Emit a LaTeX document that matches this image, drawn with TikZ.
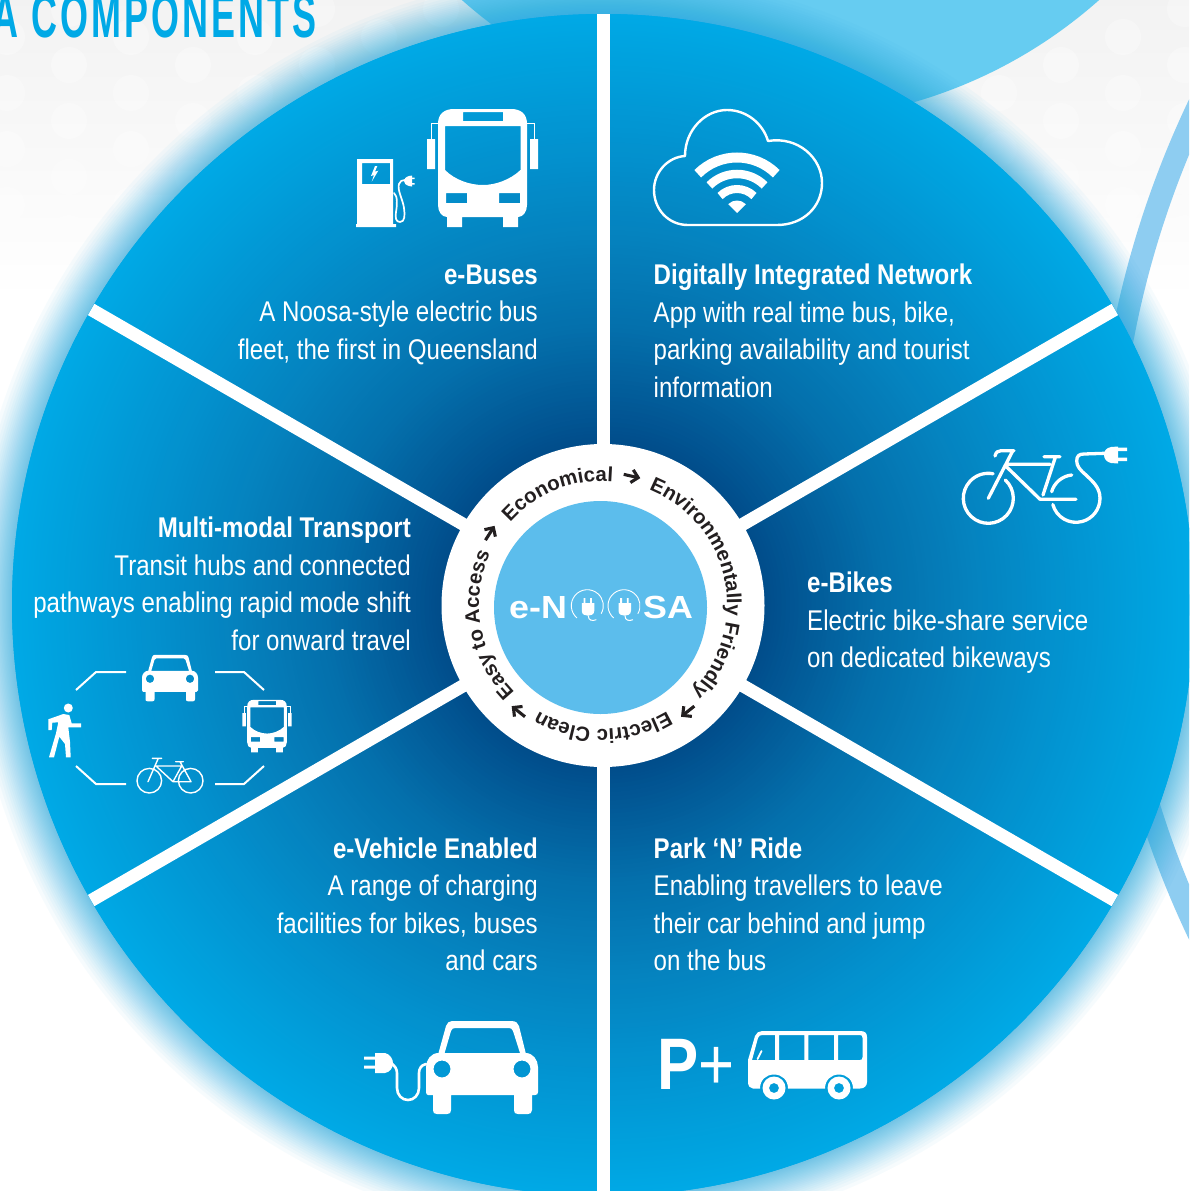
\documentclass[tikz,border=0pt]{standalone}
\usepackage{fontspec}
\setmainfont[FakeStretch=0.845]{Liberation Sans}
\newfontfamily\ringfont{Liberation Sans}
\newfontfamily\logofont[FakeStretch=1.12]{Liberation Sans}
\newfontfamily\titlefont[FakeStretch=0.58,LetterSpace=5]{Liberation Sans}
\usetikzlibrary{arrows.meta,decorations.text}
\definecolor{wheelA}{HTML}{014A87}
\definecolor{wheelB}{HTML}{01508E}
\definecolor{wheelC}{HTML}{0470AC}
\definecolor{wheelD}{HTML}{0580BC}
\definecolor{wheelE}{HTML}{0296D3}
\definecolor{wheelF}{HTML}{00A2DE}
\definecolor{wheelG}{HTML}{00A9E6}
\definecolor{skyc}{HTML}{66CCF1}
\definecolor{ringc}{HTML}{8ECDF1}
\definecolor{hubc}{HTML}{5CBDEC}
\definecolor{haloc}{HTML}{28ACE2}
\definecolor{inkc}{HTML}{231F20}
\newcommand{\gradband}[4]{% outer radius, inner radius, outer colour, inner colour
  \foreach \k in {0,...,24}{%
    \pgfmathsetmacro\rr{#1+(#2-#1)*\k/25}%
    \pgfmathsetmacro\tt{4*\k}%
    \fill[#4!\tt!#3] (603,605) circle (\rr pt);}%
}
\tikzset{
  bodytext/.style={text=white,inner sep=0pt,font=\fontsize{28.5}{37.5}\selectfont},
  leftblock/.style={bodytext,align=left,anchor=north west},
  rightblock/.style={bodytext,align=right,anchor=north east},
  icon/.style={fill=white,draw=none,even odd rule},
  iconline/.style={draw=white,line cap=round,line join=round},
  ringarrow/.style={draw=inkc,line width=3.1pt,-{Straight Barb[length=6.5pt,width=13pt,line width=3.1pt]}},
  ringtext/.style={decorate,decoration={text along path,text align=center,raise=0pt,text={#1}}}
}
\newcommand{\iconbus}{%
  \fill[icon] (438,124) .. controls (438,114) and (444,109) .. (454,109) -- (511,109) .. controls (521,109) and (527,114) .. (527,124) -- (527,205) .. controls (527,212) and (523,217) .. (518,217) -- (518,227) -- (503,227) -- (503,217) -- (462,217) -- (462,227) -- (447,227) -- (447,217) .. controls (442,217) and (438,212) .. (438,205) -- cycle
   (445,126) -- (520.5,126) -- (520.5,170) .. controls (510,180) and (495,185) .. (483,185) .. controls (470,185) and (455,180) .. (445,170) -- cycle
   (463,112) rectangle (503,121) (446,193) rectangle (467,203) (499,193) rectangle (520,203);
  \fill[white] (427,139) rectangle (435,169) (530,139) rectangle (538,169);
  \draw[white,line width=.8pt] (431,139) -- (431,123) -- (438,123) (527,123) -- (534,123) -- (534,139);
}
\newcommand{\iconcar}{%
  \fill[icon] (438.5,1053) -- (446,1026) .. controls (447,1023) and (449,1021) .. (452,1021) -- (511,1021) .. controls (516,1021) and (518,1023) .. (519,1026) -- (525.7,1053) .. controls (533,1053) and (538,1060) .. (538,1067) -- (538,1092) .. controls (538,1094) and (537,1095) .. (535,1095) -- (532,1095) -- (532,1110) .. controls (532,1113) and (530,1114) .. (528,1114) -- (518,1114) .. controls (515,1114) and (514,1113) .. (514,1110) -- (514,1095) -- (451,1095) -- (451,1110) .. controls (451,1113) and (450,1114) .. (447,1114) -- (437,1114) .. controls (434,1114) and (433,1113) .. (433,1110) -- (433,1095) -- (428,1095) .. controls (427,1095) and (426,1094) .. (426,1092) -- (426,1067) .. controls (426,1060) and (431,1053) .. (438.5,1053) -- cycle
   (444.6,1053) -- (451,1031) .. controls (452,1029) and (453,1028) .. (455,1028) -- (509,1028) .. controls (511,1028) and (512,1029) .. (513,1031) -- (520,1053) -- cycle
   (442,1069) circle (8.5pt) (522,1069) circle (8.5pt);
}
\begin{document}
\begin{tikzpicture}[x=1pt,y=-1pt]
\useasboundingbox (0,0) rectangle (1189,1191);
\begin{scope}
\clip (0,0) rectangle (1189,1191);
% background
\fill[white] (0,0) rectangle (1189,1191);
\shade[top color=black!5,bottom color=white] (0,0) rectangle (1189,300);
\foreach \cx in {7,131,255,379,503,627,751,875,999,1123}{
  \foreach \cy in {-19,37,93,149,205,261}{\fill[white,opacity=.3] (\cx,\cy) circle (18pt);}}
\foreach \cx in {69,193,317,441,565,689,813,937,1061,1185}{
  \foreach \cy in {9,65,121,177,233}{\fill[white,opacity=.3] (\cx,\cy) circle (18pt);}}
% sky disc and ring behind the wheel
\fill[skyc] (780.5,-359) circle (480pt);
\draw[ringc,line width=22.5pt] (2070,519.5) circle (964.5pt);
% halo
\foreach \k in {1,...,24}{
  \pgfmathsetmacro\rr{640-48*(\k/24)^0.6}
  \fill[haloc,opacity=.04] (603,605) circle (\rr pt);}
% wheel
\fill[wheelG] (603,605) circle (591pt);
\gradband{591}{550}{wheelG}{wheelF}
\gradband{550}{482}{wheelF}{wheelE}
\gradband{482}{360}{wheelE}{wheelD}
\gradband{360}{281}{wheelD}{wheelC}
\gradband{281}{174}{wheelC}{wheelB}
\gradband{174}{150}{wheelB}{wheelA}
% spokes
\begin{scope}[shift={(603,605)},y=1pt]
\foreach \a in {30,90,150,210,270,330}{\draw[white,line width=13pt] (0,0) -- (\a:591);}
\end{scope}
% hub
\fill[white] (603,605.5) circle (161.5pt);
\fill[hubc] (600.5,607.5) circle (106.5pt);
% title
\node[text=wheelG,inner sep=0pt,anchor=base east,font=\titlefont\bfseries\fontsize{62}{62}\selectfont] (title) at (317,37) {A COMPONENTS};
% logo
\node[text=white,inner sep=0pt,anchor=base west,font=\logofont\bfseries\fontsize{32}{32}\selectfont] (logoA) at (509,618) {e-N};
\node[text=white,inner sep=0pt,anchor=base west,font=\logofont\bfseries\fontsize{32}{32}\selectfont] (logoB) at (643,618) {SA};
\foreach \px in {587.3,624}{
  \begin{scope}[shift={(\px,605.7)},y=1pt]
  \draw[white,line width=.9pt] (230:16) arc (230:-30:16);
  \fill[white] (-5.5,2.5) -- (7,2.5) -- (7,-5) .. controls (7,-9) and (3,-10) .. (.75,-10) .. controls (-2,-10) and (-5.5,-9) .. (-5.5,-5) -- cycle;
  \fill[white] (-3.8,2) rectangle (-2.0,7.5) (2.8,2) rectangle (4.6,7.5);
  \draw[white,line width=1pt] (1,-10) .. controls (1,-15) and (5,-15.5) .. (9,-14);
  \end{scope}
}
% ring text
\begin{scope}[shift={(603,605)},y=1pt]
\path[ringtext={|\ringfont\bfseries\fontsize{20.4}{20.4}\selectfont\color{inkc}|Economical}] (152:124) arc (152:72:124);
\path[ringtext={|\ringfont\bfseries\fontsize{20.4}{20.4}\selectfont\color{inkc}|Environmentally Friendly}] (82:124) arc (82:-58:124);
\path[ringtext={|\ringfont\bfseries\fontsize{20.4}{20.4}\selectfont\color{inkc}|Electric Clean}] (-40:124) arc (-40:-140:124);
\path[ringtext={|\ringfont\bfseries\fontsize{20.4}{20.4}\selectfont\color{inkc}|Easy to Access}] (240:124) arc (240:140:124);
\draw[ringarrow] (77.3:132) ++(167.3:8.5) -- ++(-12.7:17);
\draw[ringarrow] (-51.5:136) ++(38.5:8.5) -- ++(-141.5:17);
\draw[ringarrow] (-128.5:136) ++(-38.5:8.5) -- ++(141.5:17);
\draw[ringarrow] (147.5:134) ++(237.5:8.5) -- ++(57.5:17);
\end{scope}
% texts
\node[rightblock] (tBuses) at (538,264.5) {\textbf{e-Buses}\\A Noosa-style electric bus\\fleet, the first in Queensland};
\node[leftblock] (tNet) at (653.5,263.7) {\textbf{Digitally Integrated Network}\\App with real time bus, bike,\\parking availability and tourist\\information};
\node[leftblock] (tBikes) at (807,571.7) {\textbf{e-Bikes}\\Electric bike-share service\\on dedicated bikeways};
\node[rightblock] (tMulti) at (411,516.7) {\textbf{Multi-modal Transport}\\Transit hubs and connected\\pathways enabling rapid mode shift\\for onward travel};
\node[rightblock] (tVeh) at (538,837.5) {\textbf{e-Vehicle Enabled}\\A range of charging\\facilities for bikes, buses\\and cars};
\node[leftblock] (tPark) at (653.5,837.5) {\textbf{Park ‘N’ Ride}\\Enabling travellers to leave\\their car behind and jump\\on the bus};
% bus and pump
\iconbus
\fill[icon] (357,159) -- (393,159) -- (393,224) -- (396,224) -- (396,227) -- (356,227) -- (356,224) -- (357,224) -- cycle (362,163) rectangle (390,184);
\fill[white] (375,166) -- (371,176) -- (374,175) -- (371.7,181.7) -- (378.3,170.7) -- (375,171.7) -- (377.3,166) -- cycle;
\draw[iconline,line width=1.7pt] (394,193) .. controls (398,196) and (397,206) .. (396,212) .. controls (395,218) and (396,222) .. (400,222) .. controls (405,222) and (405,215) .. (404,208) .. controls (403,200) and (397,190) .. (399,184) .. controls (400,181) and (402,180) .. (405,180);
\fill[white] (412,175.5) -- (412,186.5) -- (409,186) .. controls (405.5,185) and (404,183) .. (404,181) .. controls (404,179) and (405.5,177) .. (409,176) -- cycle;
\fill[white] (411.5,177.5) rectangle (414.5,179) (411.5,183) rectangle (414.5,184.5);
% cloud
\draw[white,line width=2.4pt,line join=round] (688,225) .. controls (668,225) and (654,209) .. (654,190) .. controls (654,172) and (668,157) .. (685,156) .. controls (685,130) and (705,110) .. (727,110) .. controls (747,110) and (763,124) .. (768,141) .. controls (798,136) and (822,158) .. (822,183) .. controls (822,207) and (803,225) .. (777,225) -- cycle;
\begin{scope}[shift={(737,213)},y=1pt]
\draw[white,line width=10pt] (45:55.5) arc (45:135:55.5);
\draw[white,line width=8.5pt] (45:39) arc (45:135:39);
\draw[white,line width=8pt] (45:24) arc (45:135:24);
\fill[white] (0,0) -- (45:12.5) arc (45:135:12.5) -- cycle;
\end{scope}
% e-bike
\begin{scope}[shift={(988.3,498.3)},y=1pt]
\draw[iconline,line width=3.3pt] (47:25) arc (47:-281:25);
\end{scope}
\begin{scope}[shift={(1076,498.3)},y=1pt]
\draw[iconline,line width=3.3pt] (195:24) arc (195:360:24);
\end{scope}
\draw[iconline,line width=3.3pt] (1100,498.3) .. controls (1100,487) and (1092,481) .. (1086,475) .. controls (1080,470) and (1076.7,466) .. (1076.7,461) .. controls (1076.7,456) and (1079,454) .. (1084,454) -- (1105,453.3);
\draw[iconline,line width=3.3pt] (1071.7,475) .. controls (1062,476) and (1054,483) .. (1051.7,491.7);
\draw[iconline,line width=3.3pt] (995,456) .. controls (996,452) and (998,450.7) .. (1001,450.7) -- (1014,450.7) (1012.3,451.7) -- (988.3,498.3) (1005.7,464.3) -- (1050,464.3) (1005.7,466) -- (1040,499.3) -- (1076,499.3) (1055,458.3) -- (1043,495) (1044,456.7) -- (1060,456.7);
\fill[white] (1118,446.5) -- (1118,463.5) -- (1111,463) .. controls (1106,462) and (1104,458) .. (1104,455) .. controls (1104,451) and (1106,448) .. (1111,447) -- cycle;
\fill[white] (1117,447.5) rectangle (1127,451) (1117,457.5) rectangle (1127,461);
% electric car
\iconcar
\draw[iconline,line width=2.6pt] (426,1064) .. controls (421,1065) and (419,1069) .. (419,1073) -- (419,1088) .. controls (419,1095) and (414,1100) .. (408,1100) .. controls (402,1100) and (397,1095) .. (397,1088) -- (397,1073) .. controls (397,1069) and (395,1066) .. (391,1063);
\fill[white] (375,1053) -- (385,1053) .. controls (390,1054) and (393,1059) .. (393,1063) .. controls (393,1068) and (390,1072) .. (385,1073) -- (375,1073) -- cycle;
\fill[white] (364,1056.5) rectangle (376,1059.5) (364,1065.5) rectangle (376,1068.5);
% park and ride
\node[text=white,inner sep=0pt,anchor=base west,font=\fontsize{73}{73}\selectfont] (pplus) at (657,1089) {\textbf{P}+};
\fill[icon] (748,1060) -- (755,1036) .. controls (756,1033) and (759,1031) .. (762,1031) -- (860,1031) .. controls (865,1031) and (867,1033) .. (867,1037) -- (867,1082) .. controls (867,1086) and (864,1088.5) .. (860,1088.5) -- (853,1088.5) .. controls (853,1080) and (847,1074.5) .. (839,1074.5) .. controls (831,1074.5) and (825,1080) .. (825,1088.5) -- (788,1088.5) .. controls (788,1080) and (782,1074.5) .. (774,1074.5) .. controls (766,1074.5) and (760,1080) .. (760,1088.5) -- (753,1088.5) .. controls (750,1088.5) and (748,1086) .. (748,1082) -- cycle
 (752,1060) -- (758,1038) .. controls (759,1036) and (760,1035) .. (762,1035) -- (775,1035) -- (775,1060) -- cycle
 (779,1035) rectangle (804.4,1060) (808.4,1035) rectangle (834,1060) (838,1035) -- (860,1035) .. controls (862,1035) and (862.5,1036) .. (862.5,1038) -- (862.5,1057) .. controls (862.5,1059) and (862,1060) .. (860,1060) -- (838,1060) -- cycle;
\draw[iconline,line width=1.8pt] (761.5,1051) -- (757.5,1059);
\fill[icon] (774,1088) circle (11.5pt) (774,1088) circle (5pt) (839,1088) circle (11.5pt) (839,1088) circle (5pt);
% multi-modal ring
\draw[iconline,line width=2pt,line cap=butt,line join=miter] (76,690) -- (96,672) -- (126,672) (215,672) -- (244,672) -- (264,690) (76,766) -- (96,784) -- (126,784) (215,784) -- (244,784) -- (264,766);
\begin{scope}[shift={(170,678)},scale=.5,shift={(-482,-1067.5)}]\iconcar\end{scope}
\begin{scope}[shift={(267,726)},scale=.445,shift={(-482.5,-168)}]\iconbus\end{scope}
\fill[white] (68.3,708) circle (4.5pt);
\fill[white] (48.3,719.3) -- (63.3,714) -- (69.3,715) -- (71.7,723.3) -- (81,723.3) -- (81,727.3) -- (68.3,727.3) -- (70,741.7) -- (70.7,757.3) -- (66,757.3) -- (65,744) -- (59.3,736.7) -- (54,757.3) -- (49,757.3) -- (56,733.3) -- (58.3,722.3) -- (52.3,722.7) -- (51.7,730) -- (48.3,730) -- cycle;
\draw[iconline,line width=1.4pt] (149.3,780.7) circle (12.3pt) (190.7,780.7) circle (12.3pt) (152.3,758.3) -- (161.7,758.3) (158,759) -- (148,781.7) (156,766) -- (181.7,766) (156,766) -- (173,781.7) -- (191,781.7) -- (180,761.7) (181.7,766) -- (173,781.7) (175.7,761.7) -- (183.3,761.7);
\end{scope}
\end{tikzpicture}
\end{document}
